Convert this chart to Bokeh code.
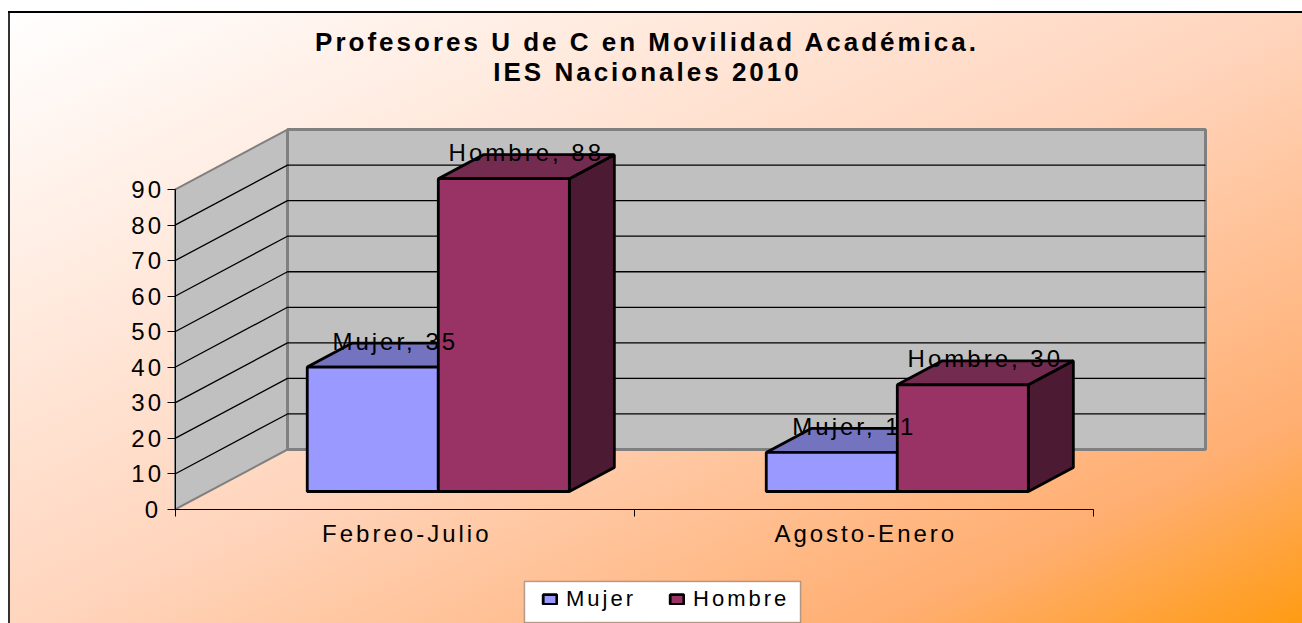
from bokeh.embed import file_html
from bokeh.resources import INLINE
from bokeh.plotting import figure
from bokeh.models import Range1d, LinearAxis, FixedTicker, Legend, LegendItem, BoxAnnotation
from bokeh.core.properties import value

title_lines = ["Profesores U de C en Movilidad Académica.", "IES Nacionales 2010"]
categories = ["Febreo-Julio", "Agosto-Enero"]
series_names = ["Mujer", "Hombre"]
mujer = [35, 11]
hombre = [88, 30]
y_ticks = [0, 10, 20, 30, 40, 50, 60, 70, 80, 90]

W, H = 1302, 623
PX_X, PX_Y = 459.0, 3.555          # pixels per category / per value
X0, Y0 = 174.5, 509.0              # where (0, 0) sits in the figure
DX, DY = 112.5 / PX_X, 60.0 / PX_Y # offset of the back wall
D_FRONT, D_BACK = 0.3, 0.7         # bar depth inside the floor
GAP, BAR = 0.2146, 0.2855
FONT = "Liberation Sans"
SPACING = 3                        # letter spacing, px

def pr(x, y, d):
    return x + d * DX, y + d * DY

def poly(points):
    pts = [pr(*q) for q in points]
    return [a for a, _ in pts], [b for _, b in pts]

def shift(text):
    # the anchor ignores the letter spacing; half of it is taken back here
    return -len(text) * SPACING / 2

p = figure(width=W, height=H, output_backend="svg", toolbar_location=None,
           x_range=Range1d(-X0 / PX_X, (W - X0) / PX_X),
           y_range=Range1d(-(H - Y0) / PX_Y, Y0 / PX_Y),
           min_border=0, x_axis_type=None, y_axis_type=None)
p.grid.visible = False
p.outline_line_color = None
p.background_fill_color = None
p.border_fill_color = None
p.styles = {
    "letter-spacing": f"{SPACING}px",
    "background-color": "#ffffff",
    "background-image": "linear-gradient(#000,#000),linear-gradient(#333,#333),"
                        "linear-gradient(to bottom right,#ffffff 0%,#ffd5bd 50%,#ffae70 83%,#ff9a0c 100%)",
    "background-size": "100% 2px,2px 100%,100% 100%",
    "background-position": "8px 11px,8px 11px,8px 11px",
    "background-repeat": "no-repeat",
}

n = len(categories)
ymax = y_ticks[-1]
# walls
lx, ly = poly([(0, 0, 0), (0, 0, 1), (0, ymax, 1), (0, ymax, 0)])
p.patch(lx, ly, fill_color="#C0C0C0", line_color="#808080", line_width=2)
bx, by = poly([(0, 0, 1), (n, 0, 1), (n, ymax, 1), (0, ymax, 1)])
p.patch(bx, by, fill_color="#C0C0C0", line_color="#808080", line_width=3)
# gridlines
for t in y_ticks[1:-1]:
    gx, gy = poly([(0, t, 0), (0, t, 1), (n, t, 1)])
    p.line(gx, gy, line_color="#000000", line_width=1.3)

def bars(vals, offset, front, top, side):
    fr, tp, sd = ([], []), ([], []), ([], [])
    for i, v in enumerate(vals):
        a = i + GAP + offset * BAR
        b = a + BAR
        for store, q in (
            (sd, [(b, 0, D_FRONT), (b, 0, D_BACK), (b, v, D_BACK), (b, v, D_FRONT)]),
            (tp, [(a, v, D_FRONT), (b, v, D_FRONT), (b, v, D_BACK), (a, v, D_BACK)]),
            (fr, [(a, 0, D_FRONT), (b, 0, D_FRONT), (b, v, D_FRONT), (a, v, D_FRONT)]),
        ):
            xs, ys = poly(q)
            store[0].append(xs)
            store[1].append(ys)
    p.patches(sd[0], sd[1], fill_color=side, line_color="#000000", line_width=2.8)
    p.patches(tp[0], tp[1], fill_color=top, line_color="#000000", line_width=2.8)
    return p.patches(fr[0], fr[1], fill_color=front, line_color="#000000", line_width=2.8)

r_m = bars(mujer, 0, "#9999FF", "#7373BF", "#4D4D80")
r_h = bars(hombre, 1, "#993366", "#732B4F", "#4D1A33")

# axes
ax_y = LinearAxis(ticker=FixedTicker(ticks=y_ticks), fixed_location=0, bounds=(0, ymax))
ax_y.major_tick_out, ax_y.major_tick_in, ax_y.minor_tick_out = 8, 0, 0
ax_y.major_label_text_font = FONT
ax_y.major_label_text_font_size = "24px"
ax_y.major_label_text_color = "#000000"
ax_y.major_label_standoff = 9
p.add_layout(ax_y, "left")

cat_ticks = [i + 0.505 + shift(c) / PX_X for i, c in enumerate(categories)]
ax_x = LinearAxis(ticker=FixedTicker(ticks=cat_ticks, minor_ticks=list(range(n + 1))),
                  fixed_location=0, bounds=(0, n),
                  major_label_overrides=dict(zip(cat_ticks, categories)))
ax_x.major_tick_line_color = None
ax_x.major_tick_out, ax_x.major_tick_in = 0, 0
ax_x.minor_tick_out, ax_x.minor_tick_in = 7, 0
ax_x.minor_tick_line_color = "#000000"
ax_x.major_label_text_font = FONT
ax_x.major_label_text_font_size = "24px"
ax_x.major_label_text_color = "#000000"
ax_x.major_label_standoff = 3
p.add_layout(ax_x, "below")

# value labels
lab_x, lab_y, lab_t = [], [], []
for off, name, vals in ((0, series_names[0], mujer), (1, series_names[1], hombre)):
    for i, v in enumerate(vals):
        x, y = pr(i + GAP + (off + 0.5) * BAR, v, 0.5)
        lab_x.append(x); lab_y.append(y); lab_t.append(f"{name}, {v}")
p.text(lab_x, lab_y, text=lab_t, text_font=value(FONT), text_font_size="24px",
       x_offset=[shift(t) for t in lab_t],
       text_align="center", text_baseline="middle", y_offset=-14, text_color="#000000")

# title
title_x = (647 - X0) / PX_X
p.text([title_x] * 2, [(Y0 - 41) / PX_Y, (Y0 - 71) / PX_Y], text=title_lines,
       x_offset=[shift(t) for t in title_lines],
       text_font=value(FONT), text_font_size="26px", text_font_style="bold",
       text_align="center", text_baseline="middle", text_color="#000000")

# legend
box = BoxAnnotation(left=524, right=800, top=42, bottom=1,
                    left_units="screen", right_units="screen", top_units="screen", bottom_units="screen",
                    fill_color="#FFFFFF", fill_alpha=1, line_color="#000000", line_width=1.5)
p.add_layout(box)
leg = Legend(items=[LegendItem(label=series_names[0], renderers=[r_m]),
                    LegendItem(label=series_names[1], renderers=[r_h])],
             orientation="horizontal", location=(541, 11))
leg.background_fill_alpha = 0
leg.border_line_color = None
leg.label_text_font = FONT
leg.label_text_font_size = "22px"
leg.label_text_color = "#000000"
leg.glyph_width, leg.glyph_height = 17, 12
leg.padding, leg.margin = 8, 0
leg.spacing = 32
leg.label_standoff = 8
p.add_layout(leg)

open("out.html", "w").write(file_html(p, INLINE))
